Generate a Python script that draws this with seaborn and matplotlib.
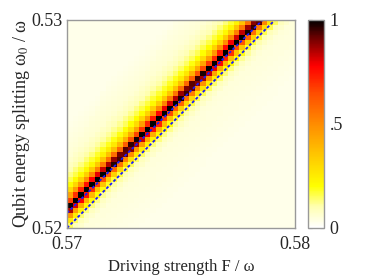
import numpy as np
import pandas as pd
import matplotlib
matplotlib.use('Agg')
import matplotlib.pyplot as plt
import seaborn as sns
from matplotlib.colors import LinearSegmentedColormap

# axis ranges (driving strength F/omega, qubit splitting omega_0/omega)
F_lim = [0.57, 0.58]
w0_lim = [0.52, 0.53]
n_cells = 41

# resonance line (upper blue dashes) and second line (lower blue dashes)
res_F = [0.5700, 0.57858]
res_w0 = [0.52072, 0.5300]
res2_F = [0.5700, 0.57912]
res2_w0 = [0.5200, 0.5300]

# excitation probability vs horizontal detuning from the resonance line (units of 1e-4)
detuning = [-40, -24, -18, -14, -10.5, -7.5, -5, -3.5, -2.2, -1, 0, 1, 2, 3, 4.5, 6, 9, 14, 40]
prob = [0.03, 0.06, 0.1, 0.15, 0.22, 0.38, 0.6, 0.82, 1.0, 1.0, 0.85, 0.65, 0.5, 0.38, 0.26, 0.17,
        0.09, 0.05, 0.03]

# colormap: white -> yellow -> orange -> red -> black
cmap_colors = [(0.0, (1, 1, 1)), (0.1, (1, 1, 0.7)), (0.2, (1, 1, 0)), (0.35, (1, 0.78, 0)),
               (0.5, (1, 0.55, 0)), (0.65, (1, 0.3, 0)), (0.78, (1, 0, 0)), (0.9, (0.5, 0, 0)),
               (1.0, (0, 0, 0))]
cmap = LinearSegmentedColormap.from_list('prob', cmap_colors)

sns.set_style('white')
plt.rcParams['font.family'] = ['Liberation Serif', 'DejaVu Serif']
plt.rcParams['mathtext.fontset'] = 'stix'

# build the grid from the profile
dF = (F_lim[1] - F_lim[0]) / n_cells
dw = (w0_lim[1] - w0_lim[0]) / n_cells
F_c = F_lim[0] + (np.arange(n_cells) + 0.5) * dF
w_c = w0_lim[0] + (np.arange(n_cells) + 0.5) * dw
slope = (res_F[1] - res_F[0]) / (res_w0[1] - res_w0[0])
F_res = res_F[0] + (w_c - res_w0[0]) * slope
grid = np.interp((F_c[None, :] - F_res[:, None]) * 1e4, detuning, prob)
df = pd.DataFrame(grid, index=w_c, columns=F_c)

fig = plt.figure(figsize=(3.74, 2.76), dpi=100)
ax = fig.add_axes([67/374, 48/276, 228/374, 208/276])
cax = fig.add_axes([308/374, 48/276, 16/374, 208/276])

sns.heatmap(df, ax=ax, cmap=cmap, vmin=0, vmax=1, cbar_ax=cax,
            xticklabels=False, yticklabels=False)
ax.invert_yaxis()

def to_cells(F, w):
    return (np.asarray(F) - F_lim[0]) / dF, (np.asarray(w) - w0_lim[0]) / dw

for lf, lw_ in [(res_F, res_w0), (res2_F, res2_w0)]:
    x, y = to_cells(lf, lw_)
    ax.plot(x, y, color='#1a1aff', lw=1.3, ls=(0, (1.6, 1.2)))

ax.set_xlim(0, n_cells)
ax.set_ylim(0, n_cells)
ax.set_xticks([0, n_cells])
ax.set_xticklabels(['0.57', '0.58'], rotation=0)
ax.set_yticks([0, n_cells])
ax.set_yticklabels(['0.52', '0.53'], rotation=0)
ax.tick_params(length=0, labelsize=13, left=True, bottom=True)
ax.tick_params(axis='x', pad=6)
ax.tick_params(axis='y', pad=3)
for lbl in ax.get_yticklabels():
    lbl.set_va('center_baseline')
for s in ax.spines.values():
    s.set_visible(True)
    s.set_color('#999999')
    s.set_linewidth(1)

ax.set_xlabel('Driving strength F / ω', fontsize=12, labelpad=4)
ax.set_ylabel('Qubit energy splitting ω$_0$ / ω', fontsize=13, labelpad=0)

cbar = ax.collections[0].colorbar
cbar.set_ticks([0, 0.5, 1])
cbar.set_ticklabels(['0', '.5', '1'])
cbar.outline.set_visible(True)
cbar.outline.set_edgecolor('#999999')
cbar.outline.set_linewidth(1)
cax.tick_params(direction='in', length=3, left=True, right=True, color='#666666',
                labelsize=13, pad=4)

fig.savefig('out.png', dpi=100)
